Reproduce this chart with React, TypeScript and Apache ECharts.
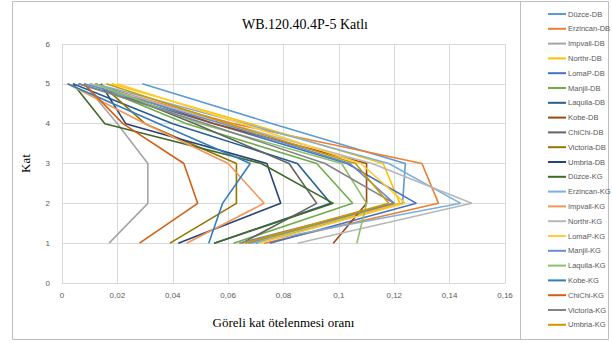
import React, { useEffect, useRef } from "react";
import * as echarts from "echarts";

const floors = [1, 2, 3, 4, 5];
const xTicks = [0, 0.02, 0.04, 0.06, 0.08, 0.1, 0.12, 0.14, 0.16];

const seriesNames = [
  "Düzce-DB", "Erzincan-DB", "Impvall-DB", "Northr-DB", "LomaP-DB", "Manjil-DB",
  "Laquila-DB", "Kobe-DB", "ChiChi-DB", "Victoria-DB", "Umbria-DB",
  "Düzce-KG", "Erzincan-KG", "Impvall-KG", "Northr-KG", "LomaP-KG", "Manjil-KG",
  "Laquila-KG", "Kobe-KG", "ChiChi-KG", "Victoria-KG", "Umbria-KG",
];

const colors = [
  "#5B9BD5", "#ED7D31", "#A5A5A5", "#FFC000", "#4472C4", "#70AD47",
  "#255E91", "#9E480E", "#636363", "#997300", "#264478",
  "#43682B", "#7CAFDD", "#F1975A", "#B7B7B7", "#FFCD33", "#698ED0",
  "#8CC168", "#327DC2", "#D26012", "#848484", "#CC9A00",
];

// drift ratio per floor 1..5
const duzceDB = [0.070, 0.123, 0.124, 0.076, 0.029];
const erzincanDB = [0.073, 0.136, 0.130, 0.062, 0.010];
const impvallDB = [0.017, 0.031, 0.031, 0.020, 0.008];
const northrDB = [0.068, 0.122, 0.116, 0.068, 0.018];
const lomaPDB = [0.075, 0.128, 0.103, 0.055, 0.006];
const manjilDB = [0.062, 0.105, 0.092, 0.045, 0.010];
const laquilaDB = [0.055, 0.097, 0.085, 0.040, 0.004];
const kobeDB = [0.098, 0.110, 0.110, 0.055, 0.012];
const chichiDB = [0.065, 0.092, 0.082, 0.048, 0.012];
const victoriaDB = [0.039, 0.063, 0.063, 0.030, 0.014];
const umbriaDB = [0.042, 0.079, 0.074, 0.023, 0.014];
const duzceKG = [0.055, 0.098, 0.072, 0.0155, 0.004];
const erzincanKG = [0.068, 0.144, 0.118, 0.066, 0.012];
const impvallKG = [0.045, 0.073, 0.060, 0.030, 0.002];
const northrKG = [0.085, 0.148, 0.112, 0.060, 0.010];
const lomaPKG = [0.071, 0.124, 0.108, 0.065, 0.020];
const manjilKG = [0.067, 0.120, 0.104, 0.058, 0.008];
const laquilaKG = [0.1065, 0.110, 0.101, 0.050, 0.012];
const kobeKG = [0.053, 0.058, 0.068, 0.035, 0.002];
const chichiKG = [0.028, 0.049, 0.044, 0.022, 0.008];
const victoriaKG = [0.064, 0.120, 0.095, 0.052, 0.006];
const umbriaKG = [0.066, 0.118, 0.106, 0.060, 0.016];

const allValues = [
  duzceDB, erzincanDB, impvallDB, northrDB, lomaPDB, manjilDB, laquilaDB, kobeDB,
  chichiDB, victoriaDB, umbriaDB, duzceKG, erzincanKG, impvallKG, northrKG, lomaPKG,
  manjilKG, laquilaKG, kobeKG, chichiKG, victoriaKG, umbriaKG,
];

const fmt = (v: number) => String(+v.toFixed(2)).replace(".", ",");

export default function App() {
  const ref = useRef<HTMLDivElement>(null);
  useEffect(() => {
    if (!ref.current) return;
    const chart = echarts.init(ref.current, null, { renderer: "svg" });
    chart.setOption({
      animation: false,
      backgroundColor: "#ffffff",
      title: {
        text: "WB.120.40.4P-5 Katlı",
        left: 300,
        top: 12,
        textAlign: "center",
        textStyle: { fontFamily: "Liberation Serif", fontSize: 14, fontWeight: "normal", color: "#000" },
      },
      grid: { left: 62, right: 107, top: 44, bottom: 60 },
      xAxis: {
        type: "value",
        min: 0,
        max: 0.16,
        interval: 0.02,
        name: "Göreli kat ötelenmesi oranı",
        nameLocation: "middle",
        nameGap: 33,
        nameTextStyle: { fontFamily: "Liberation Serif", fontSize: 13, color: "#000" },
        axisLine: { show: true, lineStyle: { color: "#D9D9D9" } },
        axisTick: { show: false },
        axisLabel: {
          formatter: (v: number) => (xTicks.some((t) => Math.abs(t - v) < 1e-9) ? fmt(v) : ""),
          fontFamily: "Liberation Sans",
          fontSize: 8,
          color: "#595959",
          margin: 8,
        },
        splitLine: { show: true, lineStyle: { color: "#D9D9D9", width: 1 } },
      },
      yAxis: {
        type: "value",
        min: 0,
        max: 6,
        interval: 1,
        name: "Kat",
        nameLocation: "middle",
        nameGap: 30,
        nameRotate: 90,
        nameTextStyle: { fontFamily: "Liberation Serif", fontSize: 13, color: "#000" },
        axisLine: { show: true, lineStyle: { color: "#D9D9D9" } },
        axisTick: { show: false },
        axisLabel: { fontFamily: "Liberation Sans", fontSize: 8, color: "#595959", margin: 12 },
        splitLine: { show: true, lineStyle: { color: "#D9D9D9", width: 1 } },
      },
      legend: {
        orient: "vertical",
        left: 543,
        top: 4,
        icon: "rect",
        itemWidth: 18,
        itemHeight: 2,
        itemGap: 4.8,
        textStyle: { fontFamily: "Liberation Sans", fontSize: 7.5, lineHeight: 10, color: "#595959", padding: [0, 0, 0, -3] },
        data: seriesNames,
      },
      graphic: [
        { type: "rect", shape: { x: 12.5, y: 1.5, width: 596, height: 338 }, style: { fill: "none", stroke: "#BFBFBF", lineWidth: 1 }, silent: true },
        { type: "line", shape: { x1: 520.5, y1: 1.5, x2: 520.5, y2: 339.5 }, style: { stroke: "#BFBFBF", lineWidth: 1 }, silent: true },
      ],
      series: seriesNames.map((name, i) => ({
        name,
        type: "line",
        symbol: "none",
        color: colors[i],
        lineStyle: { width: 1.6, color: colors[i] },
        data: floors.map((f, k) => [allValues[i][k], f]),
      })),
    });
    return () => chart.dispose();
  }, []);
  return <div ref={ref} style={{ position: "fixed", left: 0, top: 0, width: 612, height: 343 }} />;
}
